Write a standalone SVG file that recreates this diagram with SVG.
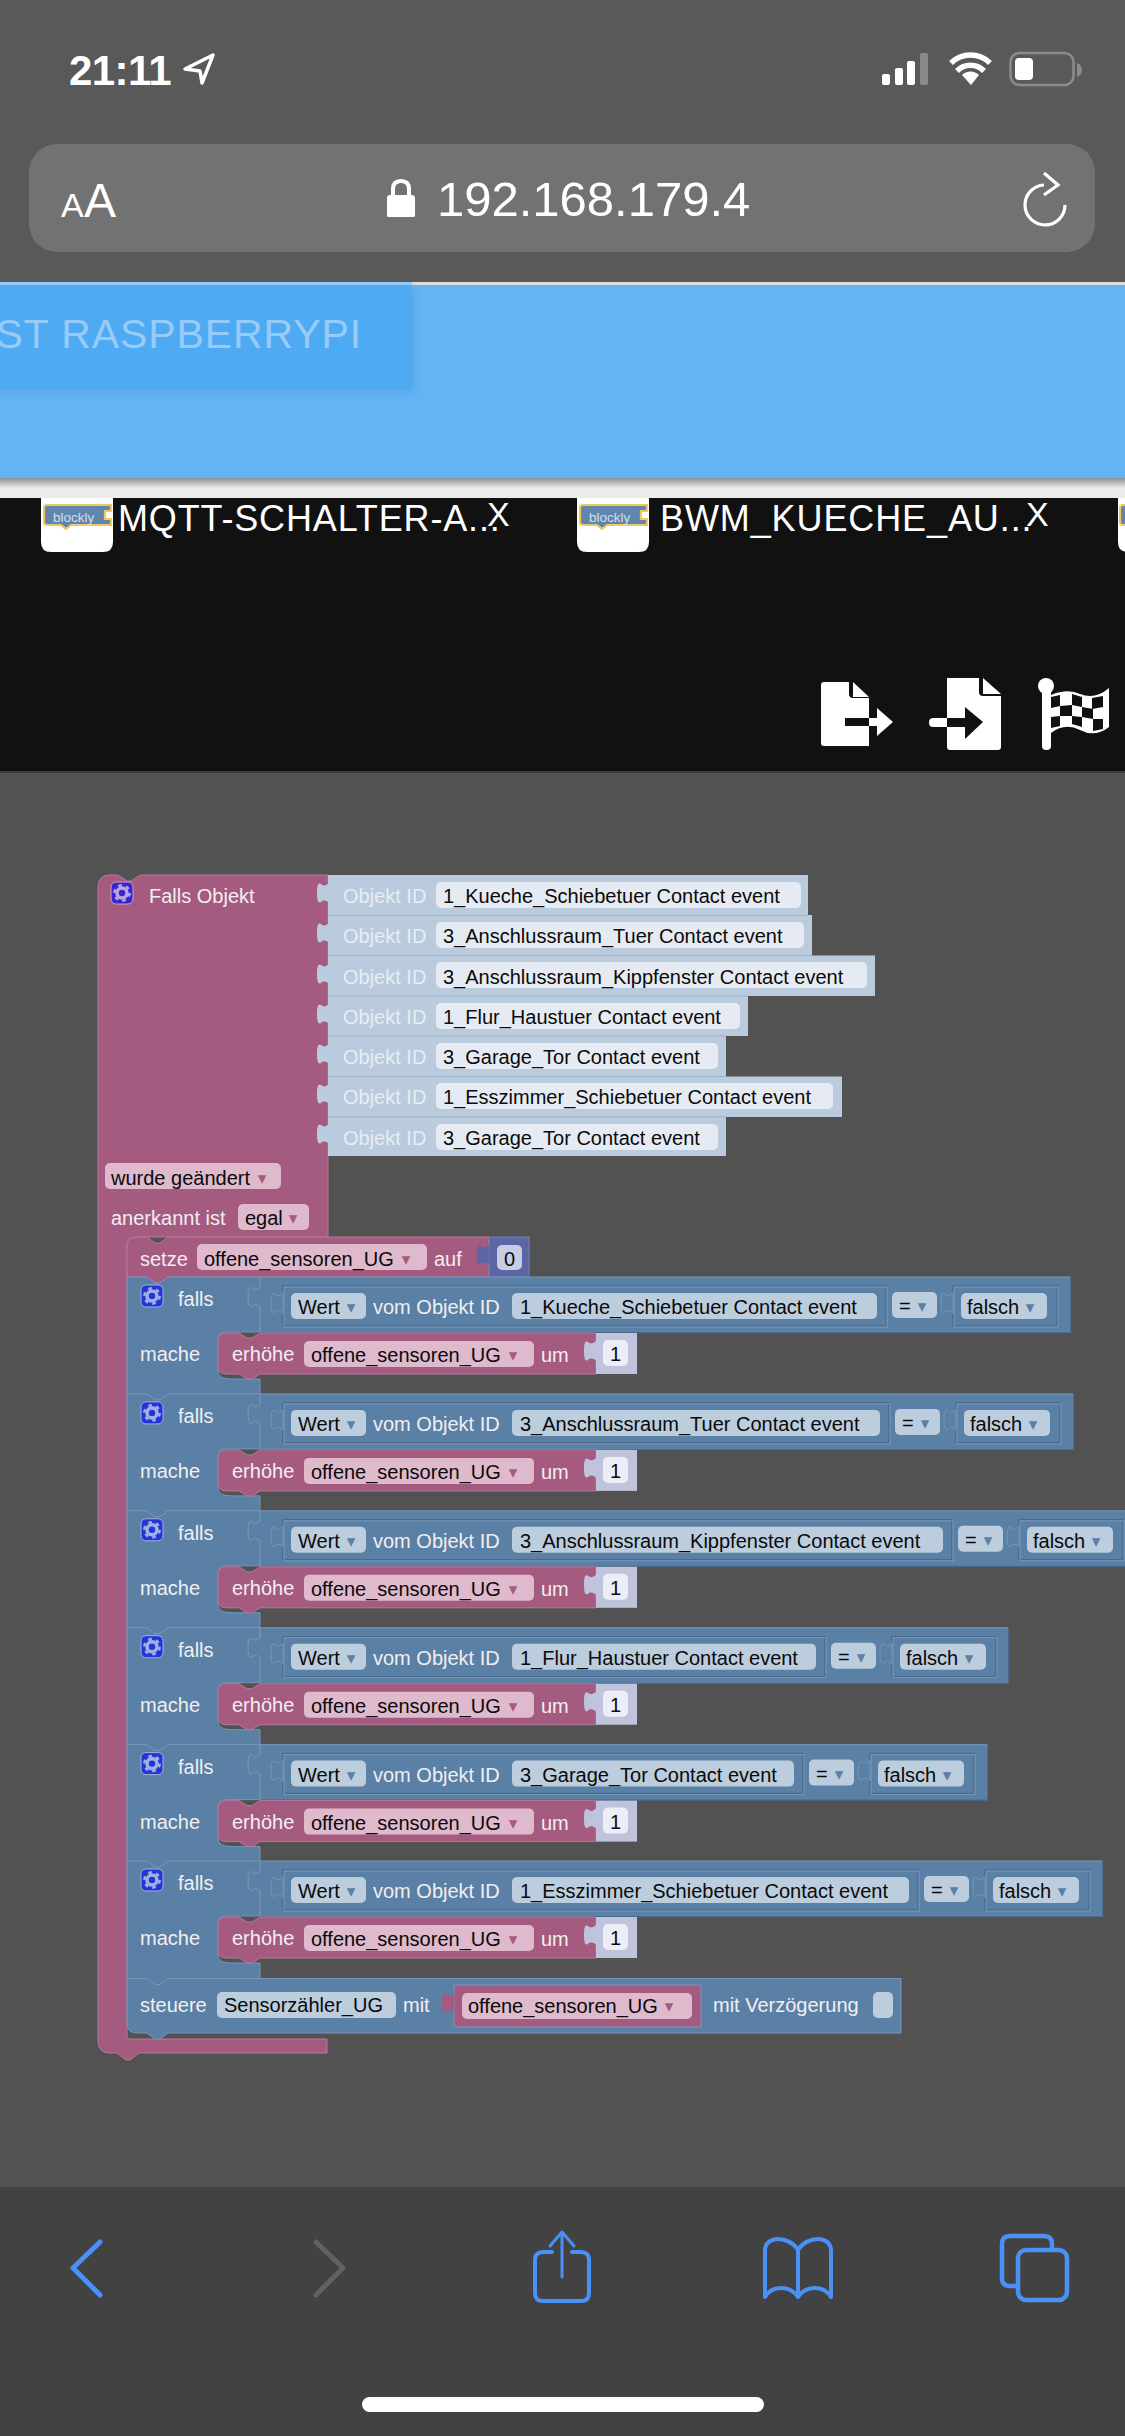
<svg xmlns="http://www.w3.org/2000/svg" xmlns:xlink="http://www.w3.org/1999/xlink" width="1125" height="2436" viewBox="0 0 1125 2436">
<style>
text{font-family:"Liberation Sans",Arial,sans-serif;font-size:20px}
.w{fill:#f2eef0}.k{fill:#0a0a0a}.o{fill:#e6edf4}
.m{fill:#a55b80;stroke:#b5789a;stroke-width:1}
.b{fill:#5b80a5;stroke:#7597b9;stroke-width:1}
.ff{fill:#dfb9cc}.bf{fill:#bccddd}.lf{fill:#e6ebf3}.nf{fill:#ecedf6}
.ma{fill:#a55b80;font-family:"DejaVu Sans",sans-serif;font-size:17px;text-anchor:middle}
.ba{fill:#5b80a5;font-family:"DejaVu Sans",sans-serif;font-size:17px;text-anchor:middle}
.tb{fill:#5b80a5;stroke:#7597b9;stroke-width:1}
.tm{fill:#a55b80}.tl{fill:#b9cbdc}.tn{fill:#bfc4dc}
.inner{fill:none;stroke:#476a8d;stroke-width:1.5}
.inner2{fill:none;stroke:#7a9abb;stroke-width:1}
.sd{fill:none;stroke:#47698c;stroke-width:1.5}
.ic{fill:none;stroke:#4a90f5;stroke-linecap:round;stroke-linejoin:round}
.gb{stroke:#9fb0e4;stroke-width:1}
.gear{stroke:#9fb0e4}
</style>
<defs>
<path id="tab" d="M0,0c-3,3-6,3-8,1c-3,-2-4,2-4,9c0,7 1,11 4,9c2,-2 5,-2 8,1z"/>
<g id="gear" fill="none"><circle r="5" stroke-width="3.6"/><circle r="7.6" stroke-width="2.6" stroke-dasharray="3.6 4.36"/></g>
<linearGradient id="sh" x1="0" y1="0" x2="0" y2="1"><stop offset="0" stop-color="#8c8c8c"/><stop offset="1" stop-color="#ebebeb"/></linearGradient>
<filter id="bl" x="-10%" y="-20%" width="120%" height="140%"><feGaussianBlur stdDeviation="5"/></filter>
<path id="logo" d="M47,505H111V511H105V519H111V525H71L66,529L61,525H47Q44,525 44,522V508Q44,505 47,505Z" fill="#5f87ad" stroke="#f0c860" stroke-width="2.2"/>
</defs>

<rect width="1125" height="2436" fill="#525252"/>

<g id="status-bar">
<rect width="1125" height="282" fill="#595959"/>
<text x="69" y="85" style="font-size:42px;font-weight:700;letter-spacing:-.6px" fill="#fff">21:11</text>
<path d="M213,55L185,69L200,71L202,83Z" fill="none" stroke="#fff" stroke-width="3.5" stroke-linejoin="round"/>
<rect x="882" y="74" width="8" height="11" rx="2" fill="#fff"/>
<rect x="895" y="68" width="8" height="17" rx="2" fill="#fff"/>
<rect x="907" y="61" width="8" height="24" rx="2" fill="#fff"/>
<rect x="920" y="53" width="8" height="32" rx="2" fill="#8a8a8a"/>
<path d="M951,63A28,28 0 0 1 990,63M957,71A19,19 0 0 1 984,71" fill="none" stroke="#fff" stroke-width="5.5"/>
<path d="M971,85L962,75A12,12 0 0 1 979,75Z" fill="#fff"/>
<rect x="1010.500" y="53" width="63" height="32" rx="9" fill="none" stroke="#8b8b8b" stroke-width="2.500"/>
<rect x="1015" y="58" width="18" height="22" rx="4" fill="#fff"/>
<path d="M1077,63q5,2 5,7t-5,7z" fill="#8b8b8b"/>
</g>

<g id="url-bar">
<rect x="29" y="144" width="1066" height="108" rx="28" fill="#727272"/>
<text x="61" y="217" style="font-size:34px" fill="#fff">A</text>
<text x="84" y="217" style="font-size:48px" fill="#fff">A</text>
<path d="M387,216V198q0,-3 3,-3h1v-6q0,-10 10,-10t10,10v6h1q3,0 3,3v18q0,1 -2,1h-24q-2,0 -2,-1zM395,195h12v-6q0,-6 -6,-6t-6,6z" fill="#fff" fill-rule="evenodd"/>
<text x="437" y="216" style="font-size:49px" fill="#fff">192.168.179.4</text>
<path d="M1044,185A20,20 0 1 0 1065,205M1044,173L1058,185L1044,195" fill="none" stroke="#fff" stroke-width="3.200"/>
</g>

<g id="page-header">
<rect y="282" width="1125" height="3" fill="#dddbd7"/>
<rect y="285" width="1125" height="193" fill="#63b3f5"/>
<rect x="-20" y="290" width="432" height="100" fill="#3c87c4" opacity=".45" filter="url(#bl)"/>
<rect x="-10" y="282" width="422" height="105" rx="4" fill="#4faaf4"/>
<rect y="282" width="412" height="3" fill="#95c8f3"/>
<text x="362" y="348" text-anchor="end" style="font-size:41px;letter-spacing:.9px" fill="#97cbf8">ST RASPBERRYPI</text>
<rect y="478" width="1125" height="10" fill="url(#sh)"/>
<rect y="488" width="1125" height="10" fill="#ebebeb"/>
</g>

<g id="tab-bar">
<rect y="498" width="1125" height="273" fill="#111"/>
<rect y="771" width="1125" height="2" fill="#3e3e3e"/>
<path d="M41,498H113V542q0,10 -10,10H51q-10,0 -10,-10Z" fill="#fff"/>
<use href="#logo"/>
<text x="53" y="522" style="font-size:13.500px" fill="#d5dfe9">blockly</text>
<text x="118" y="531" style="font-size:36px;letter-spacing:.85px" fill="#fff">MQTT-SCHALTER-A...</text>
<text x="487" y="526" style="font-size:34px" fill="#fff">X</text>
<path d="M577,498H649V542q0,10 -10,10H587q-10,0 -10,-10Z" fill="#fff"/>
<use href="#logo" x="536"/>
<text x="589" y="522" style="font-size:13.500px" fill="#d5dfe9">blockly</text>
<text x="660" y="531" style="font-size:36px;letter-spacing:.9px" fill="#fff">BWM_KUECHE_AU...</text>
<text x="1026" y="526" style="font-size:34px" fill="#fff">X</text>
<path d="M1118,498H1135V552H1128q-10,0 -10,-10Z" fill="#fff"/>
<use href="#logo" x="1076"/>
</g>

<g id="export-icon">
<path d="M824,682H849V694q0,4 4,4H869V718H849v8h20V746H824q-3,0 -3,-3V685q0,-3 3,-3Z" fill="#fff"/>
<path d="M853,682L869,697H853Z" fill="#fff"/>
<path d="M845,718H869V726H845Z" fill="#111"/>
<path d="M869,718H877V708L893,722L877,736V726H869Z" fill="#fff"/>
</g>
<g id="import-icon">
<path d="M950,678H979V692q0,4 4,4H1001V747q0,3 -3,3H950q-3,0 -3,-3V678Z" fill="#fff"/>
<path d="M983,678L1001,694H983Z" fill="#fff"/>
<path d="M947,718H965V707L983,722L965,739V727H947Z" fill="#111"/>
<path d="M947,718H933q-4,0 -4,4.500t4,4.500H947Z" fill="#fff"/>
</g>
<g id="flag-icon">
<circle cx="1046" cy="686" r="8" fill="#fff"/>
<rect x="1042" y="686" width="9" height="64" rx="4" fill="#fff"/>
<path d="M1051,695Q1068,688 1080,694Q1095,700 1109,688V727Q1095,738 1080,730Q1065,722 1051,733Z" fill="#fff"/>
<path d="M1051,697L1060,695V706L1051,708ZM1072,694L1082,697V707L1072,705ZM1092,698L1103,696V707L1092,709ZM1060,706L1072,705V716L1060,716ZM1082,707L1093,709V719L1082,717ZM1051,717L1060,716V726L1051,728ZM1072,716L1082,717V727L1072,724ZM1093,719L1103,719V729L1093,731Z" fill="#111"/>
</g>

<g id="hat-block">
<path class="m" d="M98,887q0,-12 12,-12H118l9,6h4l9,-6H328V1237H135q-8,0 -8,8V2039H327V2053H139l-9,7h-4l-9,-7H110q-12,0 -12,-12Z"/>
<rect x="111" y="882" width="22" height="22" rx="5" fill="#3b24d0" stroke="#c9a5ba"/>
<use href="#gear" x="122" y="893" stroke="#b9a5dc"/>
<text class="w" x="149" y="903">Falls Objekt</text>
<rect class="ff" x="105" y="1163" width="176" height="26" rx="5"/>
<text class="k" x="111" y="1185">wurde geändert</text>
<text class="ma" x="262" y="1184">▾</text>
<text class="w" x="111" y="1225">anerkannt ist</text>
<rect class="ff" x="238" y="1204" width="71" height="26" rx="5"/>
<text class="k" x="245" y="1225">egal</text>
<text class="ma" x="293" y="1224">▾</text>
</g>

<g id="object-ids">
<g id="obj1"><rect class="tl" x="328" y="875" width="480" height="40"/><use class="tl" href="#tab" x="329" y="883"/><text class="o" x="343" y="903">Objekt ID</text><rect class="lf" x="436" y="882" width="365" height="26" rx="5"/><text class="k" x="443" y="903">1_Kueche_Schiebetuer Contact event</text></g>
<g id="obj2"><rect class="tl" x="328" y="915" width="484" height="40.500"/><use class="tl" href="#tab" x="329" y="923"/><text class="o" x="343" y="943">Objekt ID</text><rect class="lf" x="436" y="922" width="368" height="26" rx="5"/><text class="k" x="443" y="943">3_Anschlussraum_Tuer Contact event</text></g>
<g id="obj3"><rect class="tl" x="328" y="955.500" width="547" height="40.500"/><use class="tl" href="#tab" x="329" y="964"/><text class="o" x="343" y="984">Objekt ID</text><rect class="lf" x="436" y="962" width="431" height="26" rx="5"/><text class="k" x="443" y="984">3_Anschlussraum_Kippfenster Contact event</text></g>
<g id="obj4"><rect class="tl" x="328" y="996" width="420" height="40"/><use class="tl" href="#tab" x="329" y="1004"/><text class="o" x="343" y="1024">Objekt ID</text><rect class="lf" x="436" y="1003" width="304" height="26" rx="5"/><text class="k" x="443" y="1024">1_Flur_Haustuer Contact event</text></g>
<g id="obj5"><rect class="tl" x="328" y="1036" width="398" height="40.500"/><use class="tl" href="#tab" x="329" y="1044"/><text class="o" x="343" y="1064">Objekt ID</text><rect class="lf" x="436" y="1043" width="282" height="26" rx="5"/><text class="k" x="443" y="1064">3_Garage_Tor Contact event</text></g>
<g id="obj6"><rect class="tl" x="328" y="1076.500" width="514" height="40.500"/><use class="tl" href="#tab" x="329" y="1084"/><text class="o" x="343" y="1104">Objekt ID</text><rect class="lf" x="436" y="1083" width="397" height="26" rx="5"/><text class="k" x="443" y="1104">1_Esszimmer_Schiebetuer Contact event</text></g>
<g id="obj7"><rect class="tl" x="328" y="1117" width="398" height="39"/><use class="tl" href="#tab" x="329" y="1124"/><text class="o" x="343" y="1145">Objekt ID</text><rect class="lf" x="436" y="1124" width="282" height="26" rx="5"/><text class="k" x="443" y="1145">3_Garage_Tor Contact event</text></g>
<path fill="none" stroke="#9db1c6" stroke-width="1" d="M328,915.500H808M328,955.500H812M328,996H748M328,1036H726M328,1076.500H726M328,1117H726"/>
</g>

<g id="set-block">
<path class="m" d="M127,1247q0,-10 10,-10H147l8,6h5l8,-6H489V1277H168l-8,6h-5l-8,-6H127Z"/>
<text class="w" x="140" y="1266">setze</text>
<rect class="ff" x="197" y="1244" width="230" height="26" rx="5"/>
<text class="k" x="204" y="1266">offene_sensoren_UG</text>
<text class="ma" x="406" y="1265">▾</text>
<text class="w" x="434" y="1266">auf</text>
<rect x="489" y="1237" width="40" height="40" fill="#5b67a5" stroke="#7680b3"/>
<use href="#tab" x="489" y="1245" fill="#5b67a5"/>
<rect x="497" y="1245" width="25" height="25" rx="5" fill="#c8cde3"/>
<text class="k" x="504" y="1266">0</text>
</g>

<g id="falls1" transform="translate(0,1277)">
<path class="b" d="M127,0H147l8,6h5l8,-6H1070V55H226q-8,0 -8,8V94q0,8 14,8H260V117H168l-8,6h-5l-8,-6H127Z"/>
<path class="sd" d="M260,55.500H1070.500V0"/>
<path class="inner2" d="M260,0V10c-3,3-6,3-8,1c-3,-2-4,2-4,9c0,7 1,11 4,9c2,-2 5,-2 8,1V55"/>
<rect x="141" y="8" width="22" height="22" rx="5" fill="#2633d8" class="gb"/><use href="#gear" x="152" y="19" class="gear"/>
<text class="w" x="178" y="29">falls</text>
<rect x="283" y="9" width="603" height="40" class="inner"/><rect x="284" y="10" width="603" height="40" class="inner2"/>
<use class="tb" href="#tab" x="283" y="16"/>
<rect class="bf" x="291" y="16" width="75" height="26" rx="5"/><text class="k" x="298" y="37">Wert</text><text class="ba" x="351" y="36">▾</text>
<text class="w" x="373" y="37">vom Objekt ID</text>
<rect class="bf" x="512" y="16" width="365" height="26" rx="5"/><text class="k" x="520" y="37">1_Kueche_Schiebetuer Contact event</text>
<g>
<rect class="bf" x="892" y="15" width="45" height="26" rx="5"/><text class="k" x="899" y="36">=</text><text class="ba" x="922" y="35">▾</text>
<rect x="953" y="9" width="104" height="40" class="inner"/><rect x="954" y="10" width="104" height="40" class="inner2"/>
<use class="tb" href="#tab" x="953" y="16"/>
<rect class="bf" x="961" y="16" width="86" height="26" rx="5"/><text class="k" x="967" y="37">falsch</text><text class="ba" x="1030" y="36">▾</text>
</g>
<text class="w" x="140" y="84">mache</text>
<path class="m" d="M218,64q0,-8 8,-8H239l8,5h5l8,-5H596V97H260l-8,5h-5l-8,-5H226q-8,0 -8,-8Z"/>
<text class="w" x="232" y="84">erhöhe</text>
<rect class="ff" x="304" y="64" width="230" height="26" rx="5"/><text class="k" x="311" y="85">offene_sensoren_UG</text><text class="ma" x="513" y="84">▾</text>
<text class="w" x="541" y="85">um</text>
<rect class="tn" x="596" y="56" width="41" height="41"/><use class="tn" href="#tab" x="596" y="64"/>
<rect class="nf" x="603" y="63" width="25" height="26" rx="5"/><text class="k" x="610" y="84">1</text>
</g>

<g id="falls2" transform="translate(0,1393.900)">
<path class="b" d="M127,0H147l8,6h5l8,-6H1073V55H226q-8,0 -8,8V94q0,8 14,8H260V117H168l-8,6h-5l-8,-6H127Z"/>
<path class="sd" d="M260,55.500H1073.500V0"/>
<path class="inner2" d="M260,0V10c-3,3-6,3-8,1c-3,-2-4,2-4,9c0,7 1,11 4,9c2,-2 5,-2 8,1V55"/>
<rect x="141" y="8" width="22" height="22" rx="5" fill="#2633d8" class="gb"/><use href="#gear" x="152" y="19" class="gear"/>
<text class="w" x="178" y="29">falls</text>
<rect x="283" y="9" width="606" height="40" class="inner"/><rect x="284" y="10" width="606" height="40" class="inner2"/>
<use class="tb" href="#tab" x="283" y="16"/>
<rect class="bf" x="291" y="16" width="75" height="26" rx="5"/><text class="k" x="298" y="37">Wert</text><text class="ba" x="351" y="36">▾</text>
<text class="w" x="373" y="37">vom Objekt ID</text>
<rect class="bf" x="512" y="16" width="368" height="26" rx="5"/><text class="k" x="520" y="37">3_Anschlussraum_Tuer Contact event</text>
<g transform="translate(3,0)">
<rect class="bf" x="892" y="15" width="45" height="26" rx="5"/><text class="k" x="899" y="36">=</text><text class="ba" x="922" y="35">▾</text>
<rect x="953" y="9" width="104" height="40" class="inner"/><rect x="954" y="10" width="104" height="40" class="inner2"/>
<use class="tb" href="#tab" x="953" y="16"/>
<rect class="bf" x="961" y="16" width="86" height="26" rx="5"/><text class="k" x="967" y="37">falsch</text><text class="ba" x="1030" y="36">▾</text>
</g>
<text class="w" x="140" y="84">mache</text>
<path class="m" d="M218,64q0,-8 8,-8H239l8,5h5l8,-5H596V97H260l-8,5h-5l-8,-5H226q-8,0 -8,-8Z"/>
<text class="w" x="232" y="84">erhöhe</text>
<rect class="ff" x="304" y="64" width="230" height="26" rx="5"/><text class="k" x="311" y="85">offene_sensoren_UG</text><text class="ma" x="513" y="84">▾</text>
<text class="w" x="541" y="85">um</text>
<rect class="tn" x="596" y="56" width="41" height="41"/><use class="tn" href="#tab" x="596" y="64"/>
<rect class="nf" x="603" y="63" width="25" height="26" rx="5"/><text class="k" x="610" y="84">1</text>
</g>

<g id="falls3" transform="translate(0,1510.800)">
<path class="b" d="M127,0H147l8,6h5l8,-6H1136V55H226q-8,0 -8,8V94q0,8 14,8H260V117H168l-8,6h-5l-8,-6H127Z"/>
<path class="sd" d="M260,55.500H1136.500V0"/>
<path class="inner2" d="M260,0V10c-3,3-6,3-8,1c-3,-2-4,2-4,9c0,7 1,11 4,9c2,-2 5,-2 8,1V55"/>
<rect x="141" y="8" width="22" height="22" rx="5" fill="#2633d8" class="gb"/><use href="#gear" x="152" y="19" class="gear"/>
<text class="w" x="178" y="29">falls</text>
<rect x="283" y="9" width="669" height="40" class="inner"/><rect x="284" y="10" width="669" height="40" class="inner2"/>
<use class="tb" href="#tab" x="283" y="16"/>
<rect class="bf" x="291" y="16" width="75" height="26" rx="5"/><text class="k" x="298" y="37">Wert</text><text class="ba" x="351" y="36">▾</text>
<text class="w" x="373" y="37">vom Objekt ID</text>
<rect class="bf" x="512" y="16" width="431" height="26" rx="5"/><text class="k" x="520" y="37">3_Anschlussraum_Kippfenster Contact event</text>
<g transform="translate(66,0)">
<rect class="bf" x="892" y="15" width="45" height="26" rx="5"/><text class="k" x="899" y="36">=</text><text class="ba" x="922" y="35">▾</text>
<rect x="953" y="9" width="104" height="40" class="inner"/><rect x="954" y="10" width="104" height="40" class="inner2"/>
<use class="tb" href="#tab" x="953" y="16"/>
<rect class="bf" x="961" y="16" width="86" height="26" rx="5"/><text class="k" x="967" y="37">falsch</text><text class="ba" x="1030" y="36">▾</text>
</g>
<text class="w" x="140" y="84">mache</text>
<path class="m" d="M218,64q0,-8 8,-8H239l8,5h5l8,-5H596V97H260l-8,5h-5l-8,-5H226q-8,0 -8,-8Z"/>
<text class="w" x="232" y="84">erhöhe</text>
<rect class="ff" x="304" y="64" width="230" height="26" rx="5"/><text class="k" x="311" y="85">offene_sensoren_UG</text><text class="ma" x="513" y="84">▾</text>
<text class="w" x="541" y="85">um</text>
<rect class="tn" x="596" y="56" width="41" height="41"/><use class="tn" href="#tab" x="596" y="64"/>
<rect class="nf" x="603" y="63" width="25" height="26" rx="5"/><text class="k" x="610" y="84">1</text>
</g>

<g id="falls4" transform="translate(0,1627.700)">
<path class="b" d="M127,0H147l8,6h5l8,-6H1008V55H226q-8,0 -8,8V94q0,8 14,8H260V117H168l-8,6h-5l-8,-6H127Z"/>
<path class="sd" d="M260,55.500H1008.500V0"/>
<path class="inner2" d="M260,0V10c-3,3-6,3-8,1c-3,-2-4,2-4,9c0,7 1,11 4,9c2,-2 5,-2 8,1V55"/>
<rect x="141" y="8" width="22" height="22" rx="5" fill="#2633d8" class="gb"/><use href="#gear" x="152" y="19" class="gear"/>
<text class="w" x="178" y="29">falls</text>
<rect x="283" y="9" width="542" height="40" class="inner"/><rect x="284" y="10" width="542" height="40" class="inner2"/>
<use class="tb" href="#tab" x="283" y="16"/>
<rect class="bf" x="291" y="16" width="75" height="26" rx="5"/><text class="k" x="298" y="37">Wert</text><text class="ba" x="351" y="36">▾</text>
<text class="w" x="373" y="37">vom Objekt ID</text>
<rect class="bf" x="512" y="16" width="304" height="26" rx="5"/><text class="k" x="520" y="37">1_Flur_Haustuer Contact event</text>
<g transform="translate(-61,0)">
<rect class="bf" x="892" y="15" width="45" height="26" rx="5"/><text class="k" x="899" y="36">=</text><text class="ba" x="922" y="35">▾</text>
<rect x="953" y="9" width="104" height="40" class="inner"/><rect x="954" y="10" width="104" height="40" class="inner2"/>
<use class="tb" href="#tab" x="953" y="16"/>
<rect class="bf" x="961" y="16" width="86" height="26" rx="5"/><text class="k" x="967" y="37">falsch</text><text class="ba" x="1030" y="36">▾</text>
</g>
<text class="w" x="140" y="84">mache</text>
<path class="m" d="M218,64q0,-8 8,-8H239l8,5h5l8,-5H596V97H260l-8,5h-5l-8,-5H226q-8,0 -8,-8Z"/>
<text class="w" x="232" y="84">erhöhe</text>
<rect class="ff" x="304" y="64" width="230" height="26" rx="5"/><text class="k" x="311" y="85">offene_sensoren_UG</text><text class="ma" x="513" y="84">▾</text>
<text class="w" x="541" y="85">um</text>
<rect class="tn" x="596" y="56" width="41" height="41"/><use class="tn" href="#tab" x="596" y="64"/>
<rect class="nf" x="603" y="63" width="25" height="26" rx="5"/><text class="k" x="610" y="84">1</text>
</g>

<g id="falls5" transform="translate(0,1744.600)">
<path class="b" d="M127,0H147l8,6h5l8,-6H987V55H226q-8,0 -8,8V94q0,8 14,8H260V117H168l-8,6h-5l-8,-6H127Z"/>
<path class="sd" d="M260,55.500H987.500V0"/>
<path class="inner2" d="M260,0V10c-3,3-6,3-8,1c-3,-2-4,2-4,9c0,7 1,11 4,9c2,-2 5,-2 8,1V55"/>
<rect x="141" y="8" width="22" height="22" rx="5" fill="#2633d8" class="gb"/><use href="#gear" x="152" y="19" class="gear"/>
<text class="w" x="178" y="29">falls</text>
<rect x="283" y="9" width="520" height="40" class="inner"/><rect x="284" y="10" width="520" height="40" class="inner2"/>
<use class="tb" href="#tab" x="283" y="16"/>
<rect class="bf" x="291" y="16" width="75" height="26" rx="5"/><text class="k" x="298" y="37">Wert</text><text class="ba" x="351" y="36">▾</text>
<text class="w" x="373" y="37">vom Objekt ID</text>
<rect class="bf" x="512" y="16" width="282" height="26" rx="5"/><text class="k" x="520" y="37">3_Garage_Tor Contact event</text>
<g transform="translate(-83,0)">
<rect class="bf" x="892" y="15" width="45" height="26" rx="5"/><text class="k" x="899" y="36">=</text><text class="ba" x="922" y="35">▾</text>
<rect x="953" y="9" width="104" height="40" class="inner"/><rect x="954" y="10" width="104" height="40" class="inner2"/>
<use class="tb" href="#tab" x="953" y="16"/>
<rect class="bf" x="961" y="16" width="86" height="26" rx="5"/><text class="k" x="967" y="37">falsch</text><text class="ba" x="1030" y="36">▾</text>
</g>
<text class="w" x="140" y="84">mache</text>
<path class="m" d="M218,64q0,-8 8,-8H239l8,5h5l8,-5H596V97H260l-8,5h-5l-8,-5H226q-8,0 -8,-8Z"/>
<text class="w" x="232" y="84">erhöhe</text>
<rect class="ff" x="304" y="64" width="230" height="26" rx="5"/><text class="k" x="311" y="85">offene_sensoren_UG</text><text class="ma" x="513" y="84">▾</text>
<text class="w" x="541" y="85">um</text>
<rect class="tn" x="596" y="56" width="41" height="41"/><use class="tn" href="#tab" x="596" y="64"/>
<rect class="nf" x="603" y="63" width="25" height="26" rx="5"/><text class="k" x="610" y="84">1</text>
</g>

<g id="falls6" transform="translate(0,1861)">
<path class="b" d="M127,0H147l8,6h5l8,-6H1102V55H226q-8,0 -8,8V94q0,8 14,8H260V118H168l-8,6h-5l-8,-6H127Z"/>
<path class="sd" d="M260,55.500H1102.500V0"/>
<path class="inner2" d="M260,0V10c-3,3-6,3-8,1c-3,-2-4,2-4,9c0,7 1,11 4,9c2,-2 5,-2 8,1V55"/>
<rect x="141" y="8" width="22" height="22" rx="5" fill="#2633d8" class="gb"/><use href="#gear" x="152" y="19" class="gear"/>
<text class="w" x="178" y="29">falls</text>
<rect x="283" y="9" width="635" height="40" class="inner"/><rect x="284" y="10" width="635" height="40" class="inner2"/>
<use class="tb" href="#tab" x="283" y="16"/>
<rect class="bf" x="291" y="16" width="75" height="26" rx="5"/><text class="k" x="298" y="37">Wert</text><text class="ba" x="351" y="36">▾</text>
<text class="w" x="373" y="37">vom Objekt ID</text>
<rect class="bf" x="512" y="16" width="397" height="26" rx="5"/><text class="k" x="520" y="37">1_Esszimmer_Schiebetuer Contact event</text>
<g transform="translate(32,0)">
<rect class="bf" x="892" y="15" width="45" height="26" rx="5"/><text class="k" x="899" y="36">=</text><text class="ba" x="922" y="35">▾</text>
<rect x="953" y="9" width="104" height="40" class="inner"/><rect x="954" y="10" width="104" height="40" class="inner2"/>
<use class="tb" href="#tab" x="953" y="16"/>
<rect class="bf" x="961" y="16" width="86" height="26" rx="5"/><text class="k" x="967" y="37">falsch</text><text class="ba" x="1030" y="36">▾</text>
</g>
<text class="w" x="140" y="84">mache</text>
<path class="m" d="M218,64q0,-8 8,-8H239l8,5h5l8,-5H596V97H260l-8,5h-5l-8,-5H226q-8,0 -8,-8Z"/>
<text class="w" x="232" y="84">erhöhe</text>
<rect class="ff" x="304" y="64" width="230" height="26" rx="5"/><text class="k" x="311" y="85">offene_sensoren_UG</text><text class="ma" x="513" y="84">▾</text>
<text class="w" x="541" y="85">um</text>
<rect class="tn" x="596" y="56" width="41" height="41"/><use class="tn" href="#tab" x="596" y="64"/>
<rect class="nf" x="603" y="63" width="25" height="26" rx="5"/><text class="k" x="610" y="84">1</text>
</g>

<g id="steuere-block">
<path class="b" d="M127,1978.500H147l8,6h5l8,-6H901V2033H168l-8,6h-5l-8,-6H137q-10,0 -10,-10Z"/>
<text class="w" x="140" y="2012">steuere</text>
<rect class="bf" x="217" y="1992" width="179" height="26" rx="5"/>
<text class="k" x="224" y="2012">Sensorzähler_UG</text>
<text class="w" x="403" y="2012">mit</text>
<rect x="454" y="1985" width="247" height="42" fill="#a55b80" stroke="#7597b9"/>
<use class="tm" href="#tab" x="454" y="1993"/>
<rect class="ff" x="462" y="1993" width="230" height="26" rx="5"/>
<text class="k" x="468" y="2013">offene_sensoren_UG</text>
<text class="ma" x="669" y="2012">▾</text>
<text class="w" x="713" y="2012">mit Verzögerung</text>
<rect class="bf" x="873" y="1992" width="20" height="26" rx="5"/>
</g>

<g id="toolbar">
<rect y="2187" width="1125" height="249" fill="#424242"/>
<path class="ic" d="M100,2242L73,2268L100,2295" stroke-width="5"/>
<path d="M316,2242L343,2268L316,2295" fill="none" stroke="#616161" stroke-width="5" stroke-linecap="round" stroke-linejoin="round"/>
<path class="ic" d="M552,2252H543q-8,0 -8,8V2293q0,8 8,8H581q8,0 8,-8V2260q0,-8 -8,-8H572" stroke-width="4"/>
<path class="ic" d="M562,2277V2233M550,2246L562,2232L574,2246" stroke-width="3"/>
<path class="ic" d="M798,2250C790,2236 764,2234 765,2252V2297C772,2285 790,2285 798,2297C806,2285 824,2285 831,2297V2252C832,2234 806,2236 798,2250V2297" stroke-width="4"/>
<path class="ic" d="M1052,2249V2244q0,-8 -8,-8H1010q-8,0 -8,8V2278q0,8 8,8h7" stroke-width="4.500"/>
<rect class="ic" x="1018" y="2250" width="49" height="50" rx="8" stroke-width="4.500"/>
<rect x="362" y="2397" width="402" height="15" rx="7.500" fill="#fff"/>
</g>
</svg>
